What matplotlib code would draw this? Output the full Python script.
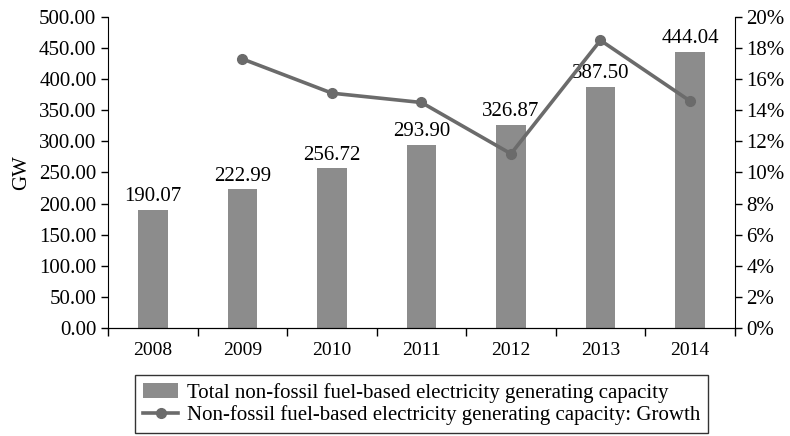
import numpy as np
import matplotlib.pyplot as plt
from matplotlib.ticker import FuncFormatter, FixedLocator

plt.rcParams["font.family"] = ["Liberation Serif", "DejaVu Serif"]

# ── Data ─────────────────────────────────────────────────────────────────────
years = ["2008", "2009", "2010", "2011", "2012", "2013", "2014"]
capacity = [190.07, 222.99, 256.72, 293.90, 326.87, 387.50, 444.04]
growth_years = ["2009", "2010", "2011", "2012", "2013", "2014"]
growth = [17.3, 15.1, 14.5, 11.2, 18.5, 14.6]

BAR_COLOR = "#8c8c8c"
LINE_COLOR = "#6b6b6b"
FS = 15

fig = plt.figure(figsize=(7.9, 4.36), dpi=100)
ax = fig.add_axes([0.137, 0.248, 0.793, 0.713])

x = np.arange(len(years))
bars = ax.bar(x, capacity, width=0.33, color=BAR_COLOR, zorder=2,
              label="Total non-fossil fuel-based electricity generating capacity")
for xi, v in zip(x, capacity):
    ax.text(xi, v + 6, f"{v:.2f}", ha="center", va="bottom", fontsize=FS, zorder=5)

ax.set_xlim(-0.5, len(years) - 0.5)
ax.set_ylim(0, 500)
ax.set_yticks(np.arange(0, 501, 50))
ax.yaxis.set_major_formatter(FuncFormatter(lambda v, p: f"{v:.2f}"))
ax.set_ylabel("GW", fontsize=FS, labelpad=6)
ax.set_xticks(x)
ax.set_xticklabels(years)
ax.xaxis.set_minor_locator(FixedLocator(np.arange(-0.5, len(years), 1.0)))
ax.tick_params(axis="x", which="major", length=0, pad=10, labelsize=14)
ax.tick_params(axis="x", which="minor", length=6, direction="out", width=1)
ax.tick_params(axis="y", length=5, direction="out", labelsize=FS, width=1)
ax.spines["top"].set_visible(False)
ax.spines["right"].set_visible(False)

# ── Growth line on secondary axis ────────────────────────────────────────────
ax2 = ax.twinx()
gx = [years.index(y) for y in growth_years]
line, = ax2.plot(gx, growth, color=LINE_COLOR, lw=2.6, marker="o", ms=7, zorder=4,
                 label="Non-fossil fuel-based electricity generating capacity: Growth")
ax2.set_ylim(0, 20)
ax2.set_yticks(np.arange(0, 21, 2))
ax2.yaxis.set_major_formatter(FuncFormatter(lambda v, p: f"{v:.0f}%"))
ax2.tick_params(axis="y", length=5, direction="out", labelsize=FS, width=1)
ax2.spines["top"].set_visible(False)
ax2.spines["left"].set_visible(False)
ax.patch.set_visible(False)
ax2.set_zorder(3)
ax.set_zorder(2)

leg = fig.legend([bars, line], [bars.get_label(), line.get_label()],
                 loc="center", bbox_to_anchor=(0.5335, 0.073), fontsize=15,
                 frameon=True, fancybox=False, edgecolor="black",
                 handlelength=1.7, borderpad=0.38, borderaxespad=0,
                 labelspacing=0.12, handletextpad=0.4)
leg.get_frame().set_linewidth(1)

fig.savefig("out.png", dpi=100)
